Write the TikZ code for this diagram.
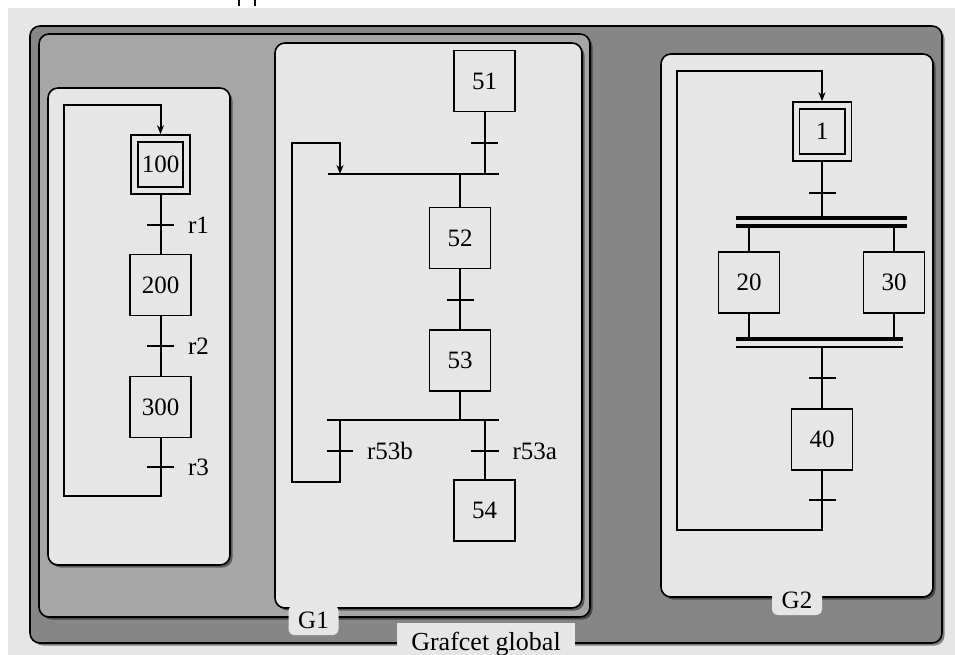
\documentclass[tikz,border=0pt]{standalone}
\usepackage{fontspec}
\setmainfont{Liberation Serif}
\usetikzlibrary{arrows.meta,shadows}
\definecolor{bglight}{HTML}{E6E6E6}
\definecolor{darkpanel}{HTML}{868686}
\definecolor{midpanel}{HTML}{A6A6A6}
\begin{document}
\begin{tikzpicture}[x=1pt,y=-1pt,line width=2pt,
  font=\fontsize{25}{30}\selectfont,
  stepbox/.style={draw,line width=1.8pt,fill=bglight,minimum width=61pt,minimum height=61pt,inner sep=0pt},
  initstep/.style={draw,line width=1.8pt,double=bglight,double distance=5pt,minimum width=52pt,minimum height=52pt,inner sep=0pt,outer sep=4.3pt},
  trans/.style={fill=black,minimum width=27pt,minimum height=2pt,inner sep=0pt,outer sep=0pt},
  tlab/.style={label distance=11pt,inner sep=2pt},
  bar/.style={fill=black,minimum width=171pt,minimum height=4pt,inner sep=0pt,outer sep=0pt},
  thinbar/.style={fill=black,minimum width=167pt,minimum height=2pt,inner sep=0pt,outer sep=0pt},
  arr/.style={-{Stealth[length=9pt,width=7pt]}},
  panel/.style={draw=black,line width=1.6pt,rounded corners=10pt,drop shadow={shadow xshift=2.5pt,shadow yshift=-2.5pt,fill=black,opacity=0.45}},
  glabel/.style={fill=bglight,rounded corners=6pt,minimum width=50pt,minimum height=30pt,inner sep=0pt}
]
\useasboundingbox (0,0) rectangle (955,655);
\fill[white] (0,0) rectangle (955,655);
\fill[bglight] (8,8) rectangle (955,655);
\draw[line width=2pt] (239,0) -- (239,6);
\draw[line width=2pt] (255,0) -- (255,6);

% panels
\draw[panel,fill=darkpanel] (30,26) rectangle (942,643);
\draw[panel,fill=midpanel] (39,34) rectangle (590,617);
\draw[panel,fill=bglight] (48,88) rectangle (230,565);
\draw[panel,fill=bglight] (275,43) rectangle (582,608);
\draw[panel,fill=bglight] (661,54) rectangle (933,597);

\node[glabel] (g1) at (313.5,620) {G1};
\node[glabel] (g2) at (797,600) {G2};
\node[fill=bglight,minimum width=178pt,minimum height=42pt,inner sep=0pt,font=\fontsize{26}{30}\selectfont] (gg) at (486,644) {Grafcet global};

% left grafcet
\node[initstep] (s100) at (160.5,164.5) {100};
\node[trans,label={[name=lr1,tlab]right:r1}] (r1) at (160.5,225) {};
\node[stepbox] (s200) at (160.5,285) {200};
\node[trans,label={[name=lr2,tlab]right:r2}] (r2) at (160.5,346) {};
\node[stepbox] (s300) at (160.5,407) {300};
\node[trans,label={[name=lr3,tlab]right:r3}] (r3) at (160.5,467) {};
\coordinate (lA) at (64,496);
\coordinate (lB) at (64,105);
\draw (s100) -- (s200);
\draw (s200) -- (s300);
\draw[arr] (s300.south) |- (lA) -- (lB) -| (s100.north);

% G1 grafcet
\node[stepbox] (s51) at (484.5,81) {51};
\node[trans] (t51) at (484.5,143) {};
\node[stepbox] (s52) at (460,238) {52};
\node[trans] (t52) at (460,300) {};
\node[stepbox] (s53) at (460,360.5) {53};
\node[trans,minimum width=26pt,label={[name=lrb,tlab]right:r53b}] (tb) at (340,451) {};
\node[trans,minimum width=28pt,label={[name=lra,tlab]right:r53a}] (ta) at (484.5,451) {};
\node[stepbox] (s54) at (484.5,510.5) {54};
\coordinate (jL) at (328,174);
\coordinate (jR) at (499,174);
\coordinate (dL) at (327,420);
\coordinate (dR) at (499,420);
\coordinate (bB) at (340,482);
\coordinate (lp) at (292,143);
\draw (jL) -- (jR);
\draw (s51) -- (s51.south |- jL);
\draw (s52.north |- jL) -- (s52);
\draw (s52) -- (s53);
\draw (dL) -- (dR);
\draw (s53) -- (s53.south |- dL);
\draw[arr] (tb |- dL) -- (bB) -| (lp) -| (tb |- jL);
\draw (ta |- dR) -- (s54);

% G2 grafcet
\coordinate (gA) at (677,530);
\coordinate (gB) at (677,71);
\node[initstep] (s1) at (822,131.5) {1};
\node[trans] (t1) at (822,193) {};
\node[bar] (dv1) at (821.5,218) {};
\node[bar] (dv2) at (821.5,226) {};
\node[stepbox] (s20) at (749,282.5) {20};
\node[stepbox] (s30) at (894,282.5) {30};
\node[bar,minimum width=167pt] (cv1) at (819.5,339) {};
\node[thinbar] (cv2) at (819.5,347) {};
\node[trans] (t2) at (822,378) {};
\node[stepbox] (s40) at (822,439.5) {40};
\node[trans] (t3) at (822,500) {};
\draw (s1) -- (s1.south |- dv1.north);
\draw (s20.north |- dv2.south) -- (s20);
\draw (s30.north |- dv2.south) -- (s30);
\draw (s20) -- (s20.south |- cv1.north);
\draw (s30) -- (s30.south |- cv1.north);
\draw (s40.north |- cv2.south) -- (s40);
\draw[arr] (s40.south) |- (gA) -- (gB) -| (s1.north);
\end{tikzpicture}
\end{document}
